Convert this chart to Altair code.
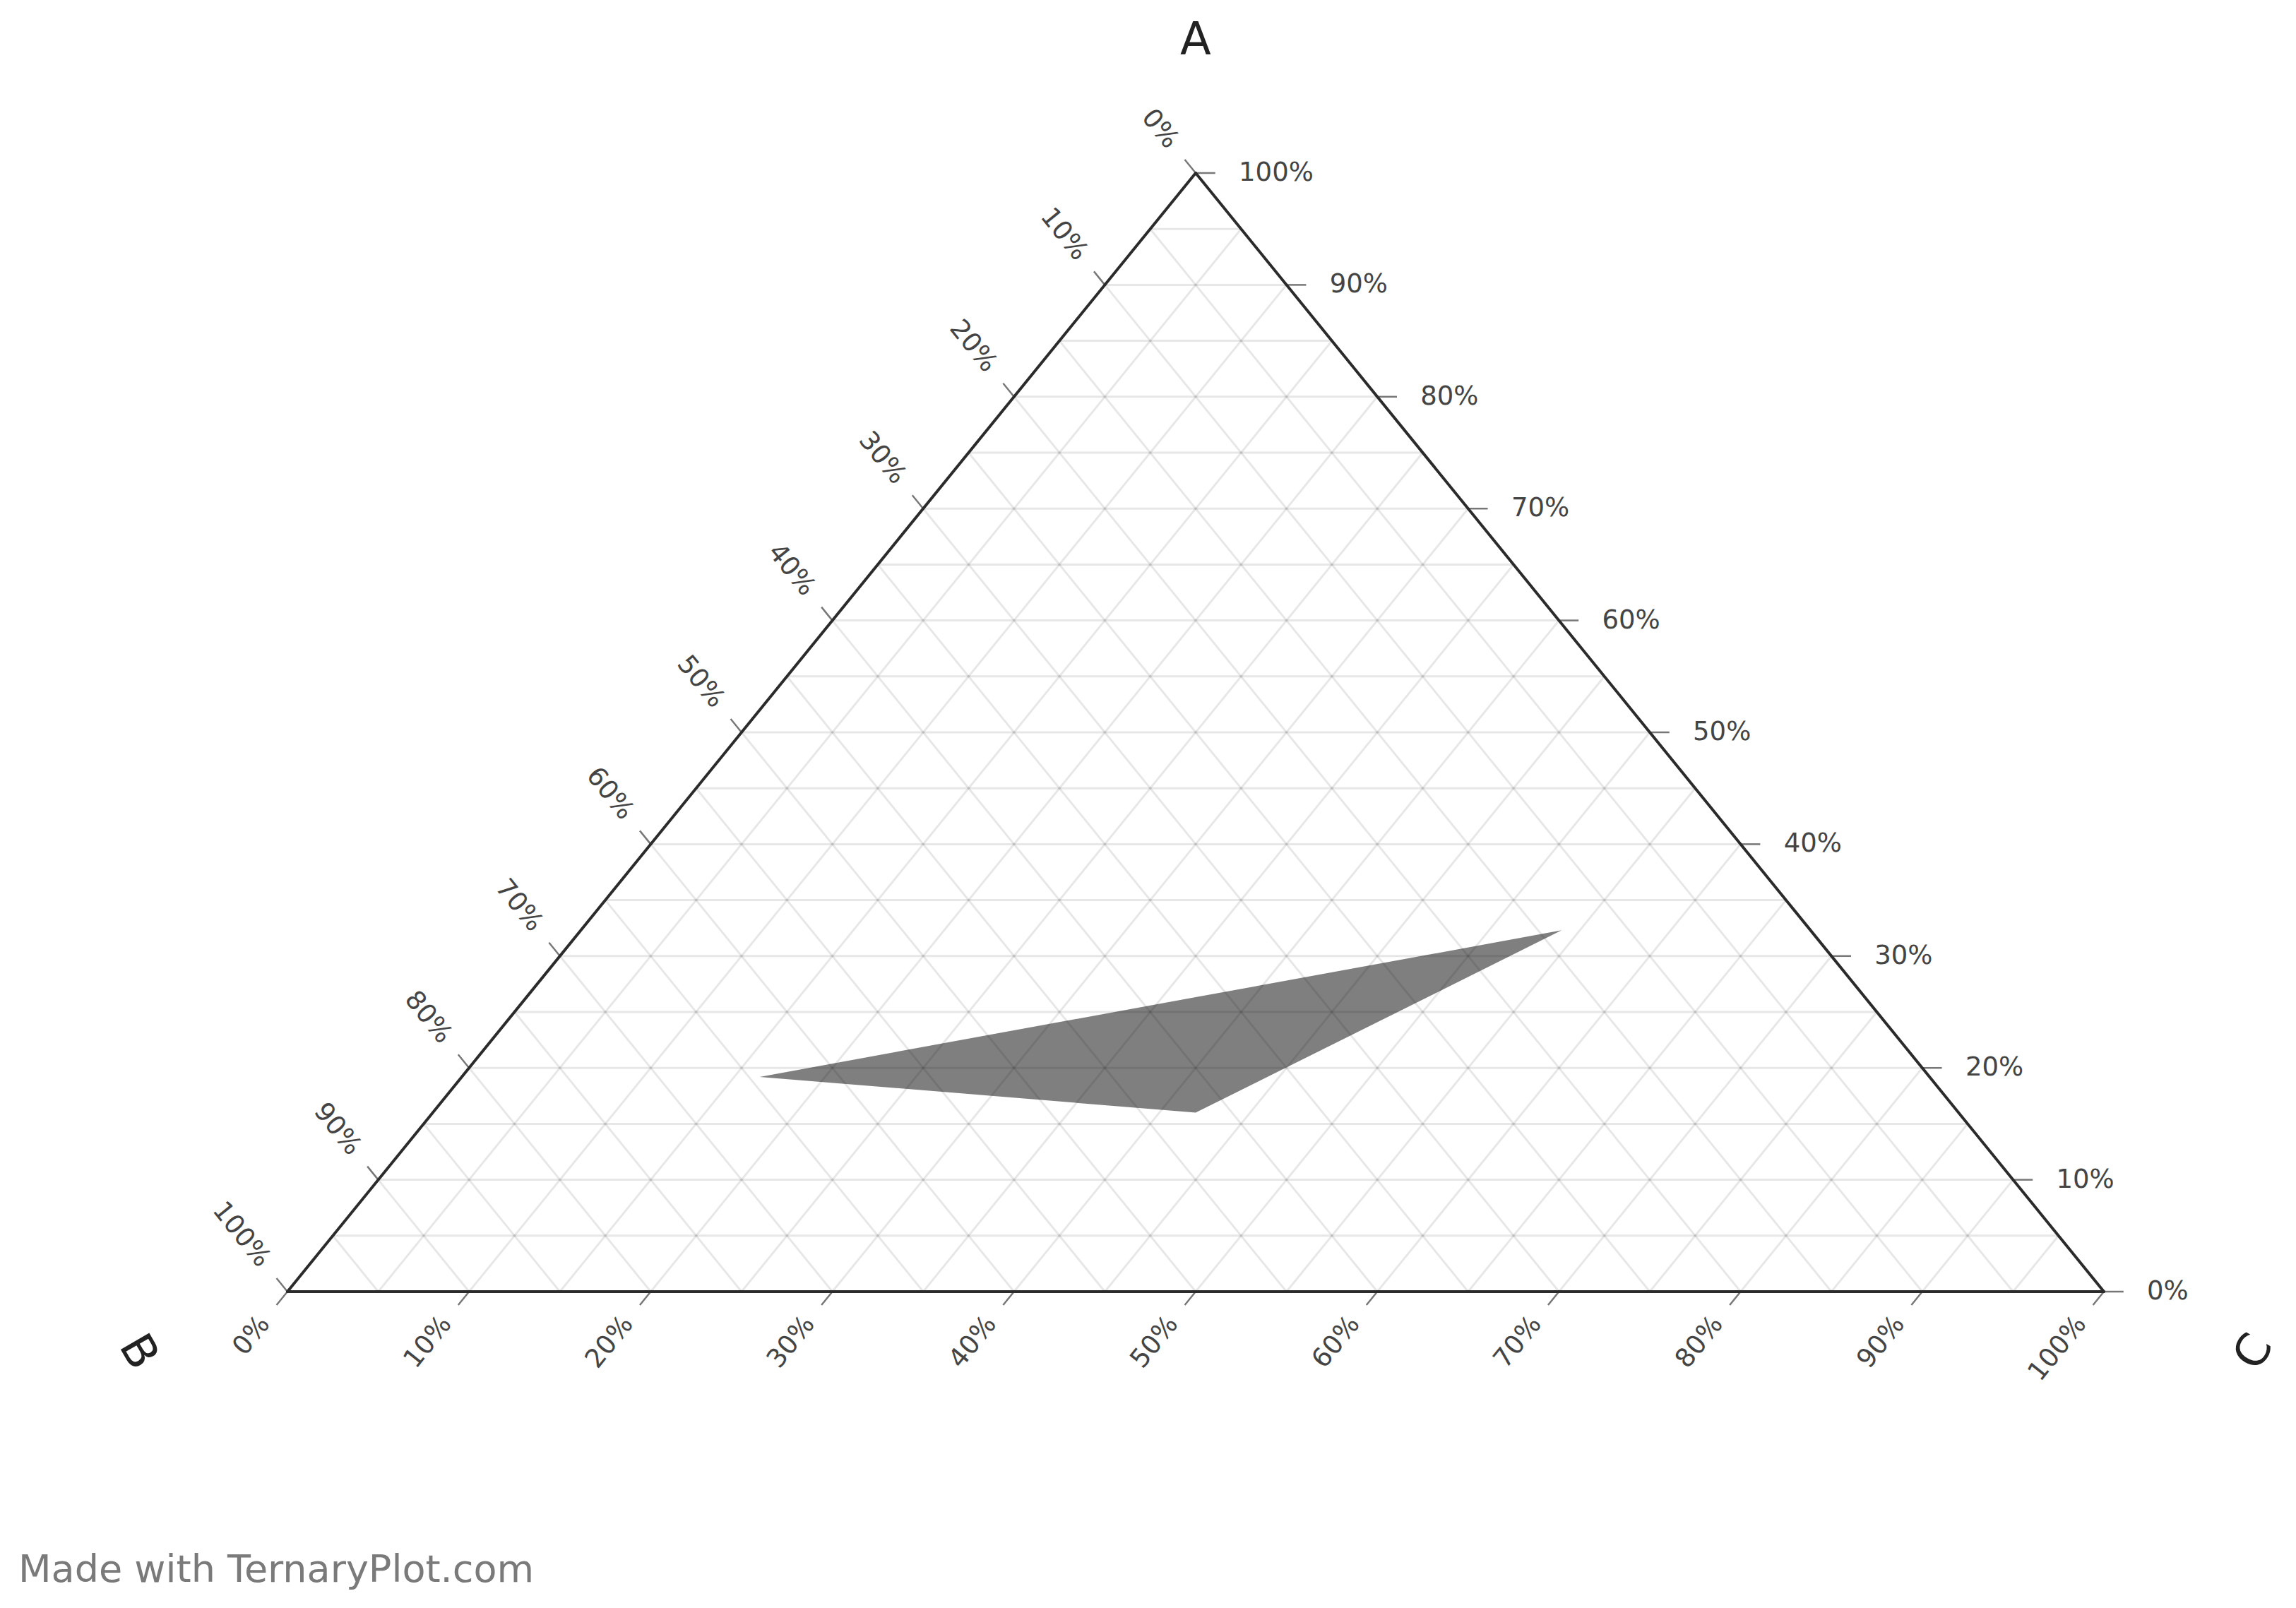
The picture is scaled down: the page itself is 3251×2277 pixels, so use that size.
import altair as alt
import pandas as pd

# ---------------- data ----------------
TICK_VALUES = [0, 10, 20, 30, 40, 50, 60, 70, 80, 90, 100]
TICK_LABELS = ["0%", "10%", "20%", "30%", "40%", "50%", "60%", "70%", "80%", "90%", "100%"]
AXIS_NAMES = ["A", "B", "C"]
GRID_STEPS = [k / 20 for k in range(1, 20)]  # 5% grid

# polygon vertices (fractions of A, B, C)
POLY_A = [0.192, 0.323, 0.160]
POLY_B = [0.644, 0.137, 0.420]
POLY_C = [0.164, 0.540, 0.420]

FOOTER = "Made with TernaryPlot.com"

# ---------------- geometry helpers ----------------
def tern(a, b, c):
    """ternary (a,b,c) -> cartesian (x,y); B at (0,0), C at (1,0), A at (0.5,1)"""
    return c + a / 2.0, a

W, H = 3230, 2250
xs = alt.Scale(domain=[-0.15513, 1.10070], nice=False, zero=False)
ys = alt.Scale(domain=[-0.27083, 1.14962], nice=False, zero=False)
X = lambda f="x": alt.X(f"{f}:Q", scale=xs, axis=None)
Y = lambda f="y": alt.Y(f"{f}:Q", scale=ys, axis=None)

# grid lines
grid_rows = []
for s in GRID_STEPS:
    x1, y1 = tern(s, 1 - s, 0)
    x2, y2 = tern(s, 0, 1 - s)
    grid_rows.append(dict(x=x1, y=y1, x2=x2, y2=y2))
    x1, y1 = tern(1 - s, s, 0)
    x2, y2 = tern(0, s, 1 - s)
    grid_rows.append(dict(x=x1, y=y1, x2=x2, y2=y2))
    x1, y1 = tern(0, 1 - s, s)
    x2, y2 = tern(1 - s, 0, s)
    grid_rows.append(dict(x=x1, y=y1, x2=x2, y2=y2))
grid_df = pd.DataFrame(grid_rows)

# triangle outline
VA, VB, VC = tern(1, 0, 0), tern(0, 1, 0), tern(0, 0, 1)
outline_df = pd.DataFrame([
    dict(x=VB[0], y=VB[1], x2=VC[0], y2=VC[1]),
    dict(x=VB[0], y=VB[1], x2=VA[0], y2=VA[1]),
    dict(x=VA[0], y=VA[1], x2=VC[0], y2=VC[1]),
])

# ticks & labels
TICK_E = 0.012
LAB_E = 0.025
tick_rows, left_lab, bot_lab, right_lab = [], [], [], []
for v, lab in zip(TICK_VALUES, TICK_LABELS):
    f = v / 100.0
    # left axis: B value
    p0 = tern(1 - f, f, 0)
    p1 = tern(1 - f + TICK_E, f, -TICK_E)
    tick_rows.append(dict(x=p0[0], y=p0[1], x2=p1[0], y2=p1[1]))
    pl = tern(1 - f + LAB_E, f, -LAB_E)
    left_lab.append(dict(x=pl[0], y=pl[1], label=lab))
    # bottom axis: C value
    p0 = tern(0, 1 - f, f)
    p1 = tern(-TICK_E, 1 - f + TICK_E, f)
    tick_rows.append(dict(x=p0[0], y=p0[1], x2=p1[0], y2=p1[1]))
    pl = tern(-LAB_E, 1 - f + LAB_E, f)
    bot_lab.append(dict(x=pl[0], y=pl[1], label=lab))
    # right axis: A value
    p0 = tern(f, 0, 1 - f)
    p1 = tern(f, -TICK_E * 0.9, 1 - f + TICK_E * 0.9)
    tick_rows.append(dict(x=p0[0], y=p0[1], x2=p1[0], y2=p1[1]))
    pl = tern(f, -LAB_E * 0.95, 1 - f + LAB_E * 0.95)
    right_lab.append(dict(x=pl[0], y=pl[1], label=lab))
tick_df = pd.DataFrame(tick_rows)
left_df = pd.DataFrame(left_lab)
bot_df = pd.DataFrame(bot_lab)
right_df = pd.DataFrame(right_lab)

# polygon as an area (lower / upper boundary over x)
pts = sorted([tern(a, b, c) for a, b, c in zip(POLY_A, POLY_B, POLY_C)])
(x0, y0), (x1, y1), (x2, y2) = pts
yl = y0 + (y2 - y0) * (x1 - x0) / (x2 - x0)
poly_df = pd.DataFrame([
    dict(x=x0, y=y0, y2=y0),
    dict(x=x1, y=min(y1, yl), y2=max(y1, yl)),
    dict(x=x2, y=y2, y2=y2),
])

# axis titles
title_df = pd.DataFrame([
    dict(x=0.5, y=1.118, label=AXIS_NAMES[0], ang=0),
    dict(x=-0.0824, y=-0.0543, label=AXIS_NAMES[1], ang=60),
    dict(x=1.0828, y=-0.0543, label=AXIS_NAMES[2], ang=300),
])

FONT = "DejaVu Sans"

poly = alt.Chart(poly_df).mark_area(color="#7f7f7f", opacity=1, interpolate="linear").encode(
    x=X(), y=Y(), y2="y2:Q")

grid = alt.Chart(grid_df).mark_rule(color="#000000", strokeOpacity=0.095, strokeWidth=3).encode(
    x=X(), y=Y(), x2="x2:Q", y2="y2:Q")

ticks = alt.Chart(tick_df).mark_rule(color="#777777", strokeWidth=2.5).encode(
    x=X(), y=Y(), x2="x2:Q", y2="y2:Q")

outline = alt.Chart(outline_df).mark_rule(color="#2b2b2b", strokeWidth=4, strokeCap="round").encode(
    x=X(), y=Y(), x2="x2:Q", y2="y2:Q")

LAB_SIZE = 37
left_t = alt.Chart(left_df).mark_text(font=FONT, fontSize=LAB_SIZE, color="#444444", angle=51,
                                      align="right", baseline="middle").encode(
    x=X(), y=Y(), text="label:N")
bot_t = alt.Chart(bot_df).mark_text(font=FONT, fontSize=LAB_SIZE, color="#444444", angle=309,
                                    align="right", baseline="middle").encode(
    x=X(), y=Y(), text="label:N")
right_t = alt.Chart(right_df).mark_text(font=FONT, fontSize=LAB_SIZE, color="#444444",
                                        align="left", baseline="middle").encode(
    x=X(), y=Y(), text="label:N")

titles = [
    alt.Chart(title_df.iloc[[i]]).mark_text(font=FONT, fontSize=64, color="#222222",
                                            angle=int(title_df.iloc[i]["ang"]),
                                            align="center", baseline="middle").encode(
        x=X(), y=Y(), text="label:N")
    for i in range(3)
]

footer = alt.Chart(pd.DataFrame([dict(label=FOOTER)])).mark_text(
    font=FONT, fontSize=54, color="#7a7a7a", align="left", baseline="alphabetic").encode(
    x=alt.value(18), y=alt.value(2232), text="label:N")

chart = alt.layer(poly, grid, ticks, outline, left_t, bot_t, right_t, *titles, footer).properties(
    width=W, height=H, padding=0,
    autosize=alt.AutoSizeParams(type="none"),
).configure_view(stroke=None)

chart.save("out.html", embed_options={"renderer": "svg", "actions": False})
